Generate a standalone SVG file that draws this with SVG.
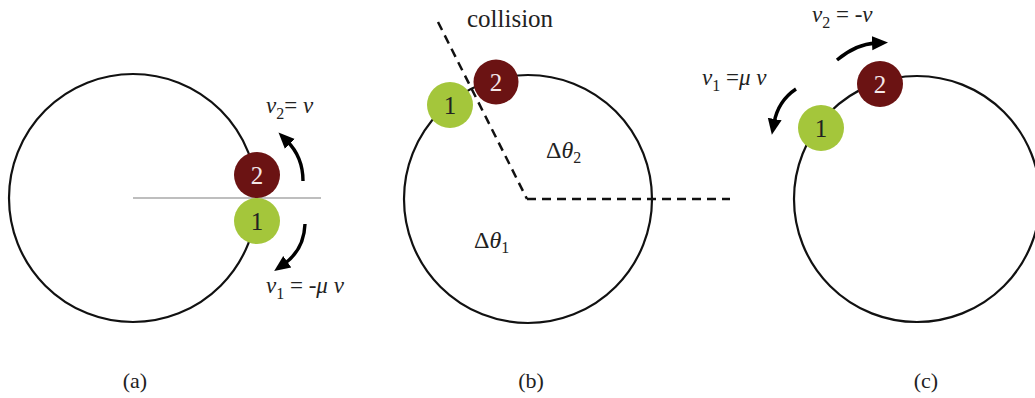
<svg xmlns="http://www.w3.org/2000/svg" width="1035" height="398" viewBox="0 0 1035 398">
<style>
.orbit{fill:none;stroke:#111;stroke-width:2.2}
.dash{fill:none;stroke:#111;stroke-width:2.5;stroke-dasharray:9 6}
.arr{fill:none;stroke:#000;stroke-width:3.4}
.b2{fill:#6b1313}
.b1{fill:#a4c63b}
text{font-family:"Liberation Serif","Times New Roman",serif;fill:#222}
.num{font-size:25px;text-anchor:middle}
.lt{fill:#f4e8e8}
.lab{font-size:23px}
.it{font-style:italic}
.sub{font-size:16px}
.cap{font-size:22px;text-anchor:middle}
</style>
<defs>
<marker id="ah" markerUnits="userSpaceOnUse" markerWidth="18" markerHeight="18" refX="4" refY="9" orient="auto">
<path d="M0,2 L16,9 L0,16 Z" fill="#000"/>
</marker>
</defs>

<g id="panel-a">
<circle class="orbit" cx="133" cy="198" r="124"/>
<line x1="133" y1="198" x2="321" y2="198" stroke="#a8a8a8" stroke-width="1.5"/>
<g id="a-ball2"><circle class="b2" cx="257" cy="175" r="23"/><text class="num lt" x="257" y="184">2</text></g>
<g id="a-ball1"><circle class="b1" cx="257" cy="221" r="23"/><text class="num" x="257" y="230">1</text></g>
<text class="lab" x="266" y="113"><tspan class="it">v</tspan><tspan class="sub" dy="6">2</tspan><tspan dy="-6">= </tspan><tspan class="it">v</tspan></text>
<text class="lab" x="266" y="293"><tspan class="it">v</tspan><tspan class="sub" dy="6">1</tspan><tspan dy="-6"> = -</tspan><tspan class="it">μ v</tspan></text>
<text class="cap" x="135" y="388">(a)</text>
</g>

<g id="panel-b">
<circle class="orbit" cx="528" cy="199" r="124"/>
<g id="b-ball2"><circle class="b2" cx="496" cy="82" r="22.5"/><text class="num lt" x="496" y="91">2</text></g>
<g id="b-ball1"><circle class="b1" cx="450" cy="105" r="23"/><text class="num" x="450" y="114">1</text></g>
<text class="lab" x="467" y="27" style="font-size:25px">collision</text>
<text class="lab" x="546" y="158" style="font-size:24px">Δ<tspan class="it">θ</tspan><tspan class="sub" dy="5">2</tspan></text>
<text class="lab" x="474" y="248" style="font-size:24px">Δ<tspan class="it">θ</tspan><tspan class="sub" dy="5">1</tspan></text>
<text class="cap" x="531" y="388">(b)</text>
</g>

<g id="panel-c">
<circle class="orbit" cx="917" cy="199" r="123"/>
<g id="c-ball2"><circle class="b2" cx="880" cy="84" r="23"/><text class="num lt" x="880" y="93">2</text></g>
<g id="c-ball1"><circle class="b1" cx="821" cy="128" r="23"/><text class="num" x="821" y="137">1</text></g>
<text class="lab" x="812" y="22"><tspan class="it">v</tspan><tspan class="sub" dy="6">2</tspan><tspan dy="-6"> = -</tspan><tspan class="it">v</tspan></text>
<text class="lab" x="702" y="85"><tspan class="it">v</tspan><tspan class="sub" dy="6">1</tspan><tspan dy="-6"> =</tspan><tspan class="it">μ v</tspan></text>
<text class="cap" x="926" y="388">(c)</text>
</g>

<g id="connectors">
<line class="dash" x1="438" y1="22" x2="527" y2="199"/>
<line class="dash" x1="527" y1="199" x2="730" y2="199"/>
<path class="arr" d="M303,181 Q303,157 287,141" marker-end="url(#ah)"/>
<path class="arr" d="M305,224 Q304,250 284,264" marker-end="url(#ah)"/>
<path class="arr" d="M837,60 Q856,44 876,43" marker-end="url(#ah)"/>
<path class="arr" d="M796,89 Q778,101 774,123" marker-end="url(#ah)"/>
</g>
</svg>
